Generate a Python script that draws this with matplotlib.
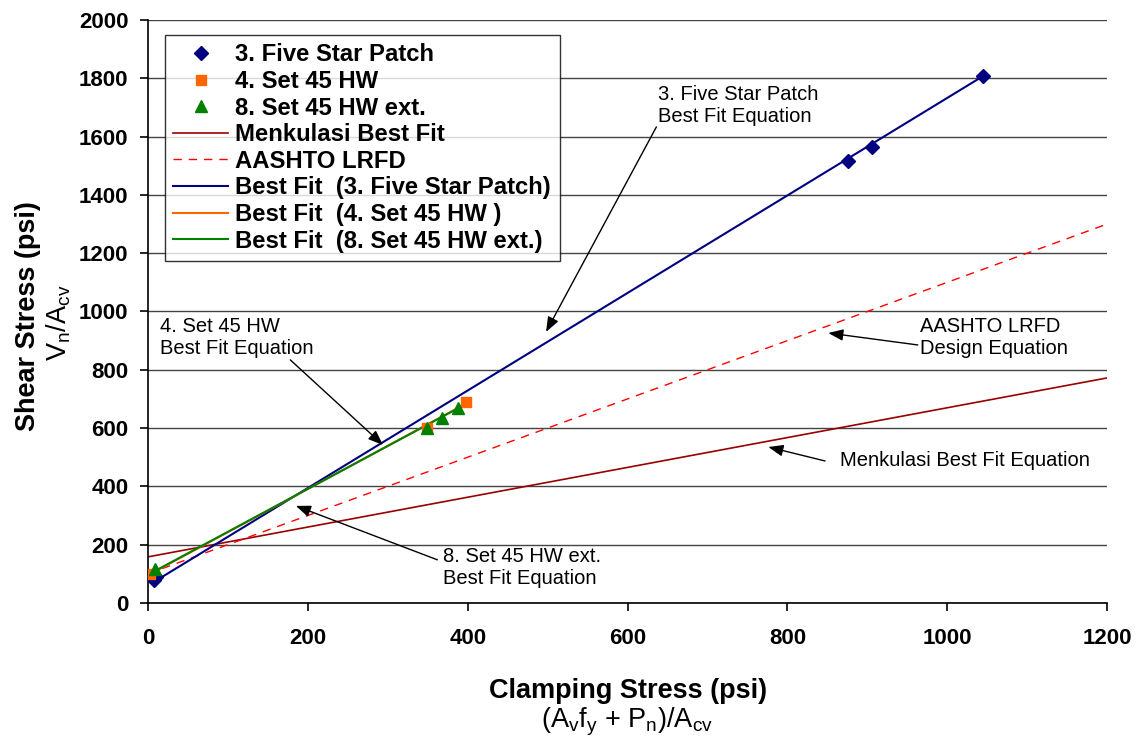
import matplotlib
matplotlib.use("Agg")
import matplotlib.pyplot as plt
import numpy as np

plt.rcParams["font.family"] = ["Liberation Sans", "DejaVu Sans"]
plt.rcParams["mathtext.fontset"] = "custom"
plt.rcParams["mathtext.rm"] = "Liberation Sans"

# measured specimens (psi)
star_x = [8, 10, 876, 906, 1045]
star_y = [78, 90, 1516, 1564, 1808]
hw_x = [2, 349, 398]
hw_y = [100, 600, 690]
hwext_x = [9, 349, 368, 388]
hwext_y = [118, 600, 635, 669]

# best fit lines (start, end) in clamping stress and fitted shear stress
star_fit_x = [8, 1045]
star_fit_y = [73, 1808]
hw_fit_x = [0, 398]
hw_fit_y = [95, 684]
hwext_fit_x = [9, 388]
hwext_fit_y = [110, 668]
menk_x = [0, 1200]
menk_y = [158, 772]
aashto_x = [0, 1200]
aashto_y = [100, 1300]

# callouts: text, text anchor, arrow tail, arrow head
notes = [
    ("3. Five Star Patch\nBest Fit Equation", (638, 1708), (636, 1633), (498, 930)),
    ("4. Set 45 HW\nBest Fit Equation", (15, 912), (178, 834), (294, 542)),
    ("AASHTO LRFD\nDesign Equation", (966, 912), (963, 885), (851, 926)),
    ("Menkulasi Best Fit Equation", (866, 487), (847, 487), (776, 535)),
    ("8. Set 45 HW ext.\nBest Fit Equation", (369, 123), (362, 148), (185, 333)),
]

fig = plt.figure(figsize=(11.38, 7.38), dpi=100)
ax = fig.add_axes([0.130, 0.183, 0.843, 0.790])

ax.plot(star_x, star_y, ls="none", marker="D", ms=7, color="#000080",
        label="3. Five Star Patch", zorder=5)
ax.plot(hw_x, hw_y, ls="none", marker="s", ms=7.5, color="#FF6600",
        label="4. Set 45 HW", zorder=5)
ax.plot(hwext_x, hwext_y, ls="none", marker="^", ms=8.5, color="#008000",
        label="8. Set 45 HW ext.", zorder=5)
ax.plot(menk_x, menk_y, color="#990000", lw=1.2, label="Menkulasi Best Fit")
ax.plot(aashto_x, aashto_y, color="#FF0000", lw=1.0, ls=(0, (6, 5)),
        label="AASHTO LRFD")
ax.plot(star_fit_x, star_fit_y, color="#000080", lw=1.5,
        label="Best Fit  (3. Five Star Patch)")
ax.plot(hw_fit_x, hw_fit_y, color="#FF6600", lw=1.5,
        label="Best Fit  (4. Set 45 HW )")
ax.plot(hwext_fit_x, hwext_fit_y, color="#008000", lw=1.5,
        label="Best Fit  (8. Set 45 HW ext.)")

for txt, xy_txt, tail, head in notes:
    ax.text(xy_txt[0], xy_txt[1], txt, fontsize=14.5, va="center", ha="left",
            linespacing=1.2)
    ax.annotate("", xy=head, xytext=tail,
                arrowprops=dict(arrowstyle="-|>,head_length=0.9,head_width=0.35",
                                color="black", lw=1.0, shrinkA=0, shrinkB=0))

ax.set_xlim(0, 1200)
ax.set_ylim(0, 2000)
ax.set_xticks(np.arange(0, 1201, 200))
ax.set_yticks(np.arange(0, 2001, 200))
ax.yaxis.grid(True, color="#444444", lw=1.0)
ax.set_axisbelow(True)
ax.spines[["top", "right"]].set_visible(False)
ax.spines[["left", "bottom"]].set_linewidth(1.2)
ax.tick_params(direction="out", length=6, width=1.2, labelsize=16)
ax.tick_params(axis="x", pad=12)
ax.tick_params(axis="y", pad=8)
for lab in ax.get_xticklabels() + ax.get_yticklabels():
    lab.set_fontweight("bold")

leg = ax.legend(loc="upper left", bbox_to_anchor=(0.0177, 0.974),
                prop={"weight": "bold", "size": 17.2}, frameon=True, fancybox=False,
                handlelength=2.3, handletextpad=0.3, labelspacing=0.15,
                borderpad=0.35, borderaxespad=0)
leg.get_frame().set_edgecolor("black")
leg.get_frame().set_linewidth(1.0)

fig.text(0.025, 0.572, "Shear Stress (psi)", rotation=90, fontsize=19.5,
         fontweight="bold", ha="center", va="center")
fig.text(0.052, 0.562, r"V$_\mathregular{n}$/A$_\mathregular{cv}$", rotation=90,
         fontsize=19.5, ha="center", va="center")
fig.text(0.552, 0.064, "Clamping Stress (psi)", fontsize=19.5, fontweight="bold",
         ha="center", va="center")
fig.text(0.551, 0.022,
         r"(A$_\mathregular{v}$f$_\mathregular{y}$ + P$_\mathregular{n}$)/A$_\mathregular{cv}$",
         fontsize=19.5, ha="center", va="center")

fig.savefig("out.png", dpi=100)
